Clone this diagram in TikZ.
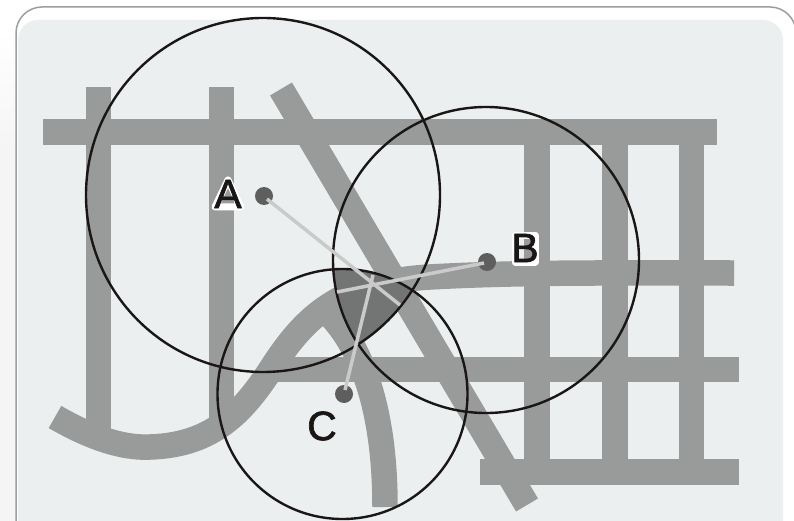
\documentclass[tikz,border=0pt]{standalone}
\usepackage{fontspec}
\setmainfont{Liberation Sans}
\newfontfamily\labfont[FakeBold=1.6]{Liberation Sans}
\definecolor{street}{HTML}{989B9A}
\definecolor{panel}{HTML}{ECEFEF}
\definecolor{commonarea}{HTML}{737574}
\definecolor{ink}{HTML}{1A1616}
\definecolor{spoke}{HTML}{C9CAC9}
\definecolor{dotc}{HTML}{5E5E5E}
\definecolor{sidewash}{HTML}{F5F5F5}
\tikzset{
  road/.style={draw=street,line width=25.5pt,line cap=butt},
  ring/.style={draw=ink,line width=2.4pt},
  spokeline/.style={draw=spoke,line width=3.5pt},
  pin/.style={circle,fill=dotc,inner sep=0pt,minimum size=18pt},
  letter/.style={font=\labfont\fontsize{41}{41}\selectfont,text=ink,inner sep=0pt},
  halo/.style={draw=white,line width=7pt,line join=round,line cap=round}
}
\begin{document}
\begin{tikzpicture}[x=1pt,y=-1pt]
\useasboundingbox (0,0) rectangle (794,521);
\clip (0,0) rectangle (794,521);
% page and panel
\fill[white] (0,0) rectangle (794,521);
\shade[top color=white,bottom color=sidewash] (0,30) rectangle (16,150);
\fill[sidewash] (0,150) rectangle (16,521);
\fill[panel,rounded corners=20pt] (18,20) rectangle (783,560);
\draw[draw=black!38,line width=1.5pt,rounded corners=26pt] (16,560) -- (16,7) -- (796,7) -- (796,80);
% streets
\draw[road] (98.5,87) -- (98.5,435);
\draw[road] (221.5,87) -- (221.5,418);
\draw[road] (43,132) -- (717,132);
\draw[road] (537,132) -- (537,472);
\draw[road] (615,132) -- (615,472);
\draw[road] (691.5,132) -- (691.5,472);
\draw[road] (266,369.5) -- (739,369.5);
\draw[road] (480,472) -- (739,472);
\draw[road] (281,89) -- (527,505);
\draw[road] (55,417) .. controls (100,443) and (130,448) .. (150,447)
  .. controls (215,445) and (245,410) .. (275,363)
  .. controls (305,318) and (340,282) .. (430,277)
  .. controls (520,272) and (620,273) .. (734,273);
\draw[road] (325,310) .. controls (362,345) and (385,410) .. (385,507);
% shaded common area
\begin{scope}
  \clip (263,195) circle[radius=177];
  \clip (486,260) circle[radius=153];
  \fill[commonarea] (342.5,394) circle[radius=125];
\end{scope}
% circles
\node[ring,circle,inner sep=0pt,minimum size=354pt] (ringA) at (263,195) {};
\node[ring,circle,inner sep=0pt,minimum size=306pt] (ringB) at (486,260) {};
\node[ring,circle,inner sep=0pt,minimum size=250pt] (ringC) at (342.5,394) {};
% pins
\node[pin] (pinA) at (264,196) {};
\node[pin] (pinB) at (487,262) {};
\node[pin] (pinC) at (344,394) {};
\coordinate (endA) at (400,305);
\coordinate (endB) at (337,292);
\coordinate (endC) at (373,275);
\draw[spokeline] (267,199) -- (endA);
\draw[spokeline] (484,263) -- (endB);
\draw[spokeline] (345,390) -- (endC);
% labels
\draw[halo] (215,207) -- (228,180) -- (241,207) -- cycle;
\draw[halo] (515,235) rectangle (535,262);
\node[letter] (labA) at (228,194) {A};
\node[letter] (labB) at (525,248) {B};
\node[letter] (labC) at (322,426) {C};
\end{tikzpicture}
\end{document}
